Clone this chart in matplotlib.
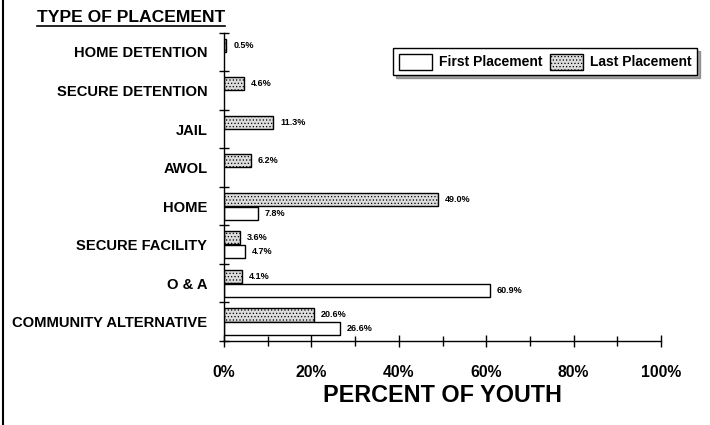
import numpy as np
import matplotlib
matplotlib.use("Agg")
import matplotlib.pyplot as plt
from matplotlib.patches import Patch
from matplotlib.lines import Line2D

categories = ["HOME DETENTION", "SECURE DETENTION", "JAIL", "AWOL", "HOME",
              "SECURE FACILITY", "O & A", "COMMUNITY ALTERNATIVE"]
last_placement = [0.5, 4.6, 11.3, 6.2, 49.0, 3.6, 4.1, 20.6]
first_placement = [None, None, None, None, 7.8, 4.7, 60.9, 26.6]
x_ticks = [0, 20, 40, 60, 80, 100]
x_tick_labels = ["0%", "20%", "40%", "60%", "80%", "100%"]

plt.rcParams['font.family'] = ['Liberation Sans', 'DejaVu Sans']
plt.rcParams['font.weight'] = 'bold'
plt.rcParams['hatch.linewidth'] = 0.5

W, H = 710, 425
fig = plt.figure(figsize=(7.1, 4.25), dpi=100)
ax = fig.add_axes([224 / W, 1 - 341 / H, (661 - 224) / W, (341 - 32.7) / H])

y = np.arange(len(categories))
h = 0.34
last_face = '#dcdcdc'

for i, v in enumerate(last_placement):
    ax.barh(y[i] - 0.175, v, height=h, color=last_face, edgecolor='black',
            linewidth=1.0, hatch='.....')
    ax.annotate(f"{v:.1f}%", xy=(v, y[i] - 0.175), xytext=(5, 0),
                textcoords='offset points', va='center', ha='left',
                fontsize=6.5, fontweight='bold')
for i, v in enumerate(first_placement):
    if v is None:
        continue
    ax.barh(y[i] + 0.185, v, height=h, color='white', edgecolor='black',
            linewidth=1.0)
    ax.annotate(f"{v:.1f}%", xy=(v, y[i] + 0.185), xytext=(5, 0),
                textcoords='offset points', va='center', ha='left',
                fontsize=6.5, fontweight='bold')

ax.set_xlim(0, 100)
ax.set_ylim(len(categories) - 0.5, -0.5)

ax.spines['top'].set_visible(False)
ax.spines['right'].set_visible(False)
ax.spines['left'].set_linewidth(1.0)
ax.spines['bottom'].set_linewidth(1.0)

ax.set_yticks(y)
ax.set_yticklabels(categories, fontsize=10.6, fontweight='bold')
ax.set_yticks(np.arange(-0.5, len(categories) + 0.5, 1), minor=True)
ax.tick_params(axis='y', which='major', length=0, pad=12)
ax.tick_params(axis='y', which='minor', direction='inout', length=7, width=1)

ax.set_xticks(x_ticks)
ax.set_xticklabels(x_tick_labels, fontsize=11.3, fontweight='bold')
ax.set_xticks(np.arange(0, 101, 10), minor=True)
ax.tick_params(axis='x', which='major', direction='inout', length=8, width=1, pad=13)
ax.tick_params(axis='x', which='minor', direction='inout', length=7, width=1)

ax.set_xlabel("PERCENT OF YOUTH", fontsize=16.8, fontweight='bold', labelpad=3)

# Title with underline
fig.text(225 / W, 1 - 17 / H, "TYPE OF PLACEMENT", ha='right', va='center',
         fontsize=12.6, fontweight='bold')
fig.add_artist(Line2D([37 / W, 225 / W], [1 - 26 / H, 1 - 26 / H],
                      transform=fig.transFigure, color='black', linewidth=1.2))

# left border line
fig.add_artist(Line2D([3 / W, 3 / W], [0, 1], transform=fig.transFigure,
                      color='black', linewidth=1.5))

handles = [Patch(facecolor='white', edgecolor='black', linewidth=1.0),
           Patch(facecolor=last_face, edgecolor='black', linewidth=1.0, hatch='.....')]
leg = ax.legend(handles, ["First Placement", "Last Placement"], ncol=2,
                loc='upper right', bbox_to_anchor=(697 / W, 1 - 48 / H),
                bbox_transform=fig.transFigure, frameon=True, fancybox=False,
                shadow=True, edgecolor='black', fontsize=10,
                handlelength=2.4, handleheight=1.4, columnspacing=0.5,
                handletextpad=0.5, borderpad=0.4, borderaxespad=0)
leg.get_frame().set_linewidth(1.0)
for t in leg.get_texts():
    t.set_fontweight('bold')

fig.savefig("out.png", dpi=100, facecolor='white')
